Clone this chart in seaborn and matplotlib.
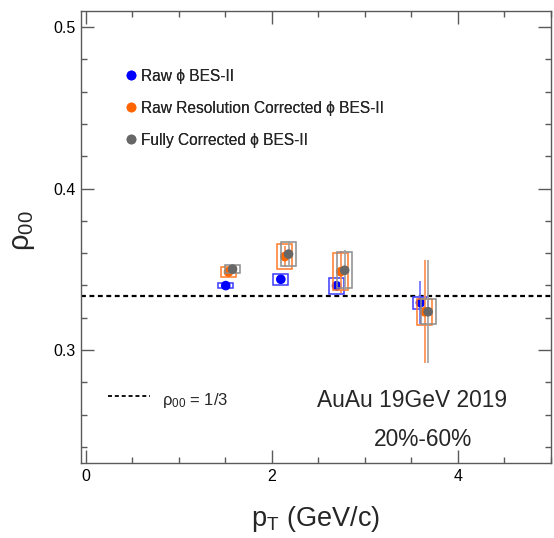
import matplotlib
matplotlib.use("Agg")
import matplotlib.pyplot as plt
from matplotlib.patches import Rectangle
from matplotlib.lines import Line2D
from matplotlib.ticker import MultipleLocator
import seaborn as sns
import pandas as pd

# rho_00 vs pT, AuAu 19.6 GeV, 20-60% centrality
series_names = ["Raw \u03d5 BES-II",
                "Raw Resolution Corrected \u03d5 BES-II",
                "Fully Corrected \u03d5 BES-II"]

pt_raw = [1.505, 2.097, 2.696, 3.597]
rho_raw = [0.3399, 0.3438, 0.3398, 0.3293]
stat_raw = [0.0010, 0.0020, 0.0030, 0.0134]
sys_raw = [0.0016, 0.0033, 0.0048, 0.0037]

pt_res = [1.535, 2.140, 2.740, 3.643]
rho_res = [0.3483, 0.3579, 0.3485, 0.3237]
stat_res = [0.0025, 0.0065, 0.0130, 0.0320]
sys_res = [0.0030, 0.0076, 0.0116, 0.0082]

pt_full = [1.578, 2.180, 2.783, 3.680]
rho_full = [0.3501, 0.3594, 0.3494, 0.3237]
stat_full = [0.0025, 0.0080, 0.0124, 0.0320]
sys_full = [0.0026, 0.0075, 0.0110, 0.0077]

rho_ref = 1.0 / 3.0
box_halfwidth = 0.08

marker_colors = ["#0000ff", "#ff6600", "#676767"]
box_colors = ["#3b3bff", "#ff7a2a", "#8c8c8c"]
stat_colors = ["#6b6bff", "#ff8a4a", "#a0a0a0"]

frames = []
for name, x, y, st, sy in zip(series_names,
                              [pt_raw, pt_res, pt_full],
                              [rho_raw, rho_res, rho_full],
                              [stat_raw, stat_res, stat_full],
                              [sys_raw, sys_res, sys_full]):
    frames.append(pd.DataFrame({"series": name, "pt": x, "rho": y,
                                "stat": st, "sys": sy}))
df = pd.concat(frames, ignore_index=True)

sns.set_theme(style="ticks")
plt.rcParams["font.family"] = ["Liberation Sans", "DejaVu Sans"]
plt.rcParams["mathtext.fontset"] = "custom"
plt.rcParams["mathtext.rm"] = "Liberation Sans"
plt.rcParams["mathtext.it"] = "Liberation Sans"
plt.rcParams["mathtext.bf"] = "Liberation Sans:bold"

fig = plt.figure(figsize=(5.54, 5.38), dpi=100)
ax = fig.add_axes([81 / 554, 75 / 538, 470 / 554, 452 / 538])

# reference line
ax.axhline(rho_ref, color="black", lw=1.6, ls=(0, (2.2, 1.6)), zorder=1)

# systematic boxes and statistical bars, drawn series by series
for i, name in enumerate(series_names):
    sub = df[df["series"] == name]
    for _, r in sub.iterrows():
        ax.add_patch(Rectangle((r["pt"] - box_halfwidth, r["rho"] - r["sys"]),
                               2 * box_halfwidth, 2 * r["sys"],
                               fill=False, edgecolor=box_colors[i], lw=1.1,
                               zorder=2 + 2 * i))
    ax.errorbar(sub["pt"], sub["rho"], yerr=sub["stat"], fmt="none",
                ecolor=stat_colors[i], elinewidth=1.2, capsize=0,
                zorder=2 + 2 * i)

for i, name in enumerate(series_names):
    sub = df[df["series"] == name]
    sns.scatterplot(data=sub, x="pt", y="rho", color=marker_colors[i],
                    s=48, edgecolor="none", ax=ax, zorder=3 + 2 * i,
                    legend=False)

ax.set_xlim(-0.05, 5.0)
ax.set_ylim(0.23, 0.51)
ax.xaxis.set_major_locator(MultipleLocator(2))
ax.xaxis.set_minor_locator(MultipleLocator(0.5))
ax.yaxis.set_major_locator(MultipleLocator(0.1))
ax.yaxis.set_minor_locator(MultipleLocator(0.02))
ax.set_xticks([0, 2, 4])
ax.set_xticklabels(["0", "2", "4"])
ax.set_yticks([0.3, 0.4, 0.5])
ax.set_yticklabels(["0.3", "0.4", "0.5"])

frame_color = "#5a5a5a"
for s in ax.spines.values():
    s.set_visible(True)
    s.set_color(frame_color)
    s.set_linewidth(1.0)
ax.tick_params(which="both", direction="in", top=True, right=True,
               color=frame_color, width=1.0, labelsize=11.5,
               labelcolor="black")
ax.tick_params(which="major", length=9.4, pad=4)
ax.tick_params(which="minor", length=4.0)

ax.set_xlabel(r"$\mathregular{p_{T}}$ (GeV/c)", fontsize=19.5)
ax.set_ylabel(r"$\mathregular{\rho_{00}}$", fontsize=21)
ax.xaxis.set_label_coords(0.5, -0.09)
ax.yaxis.set_label_coords(-0.093, 0.515)

# series legend
handles = [Line2D([], [], marker="o", ls="none", color=c, markersize=7,
                  markeredgewidth=0) for c in marker_colors]
leg = ax.legend(handles, series_names, loc="center left",
                bbox_to_anchor=(0.0928, 0.7847), frameon=False,
                fontsize=11.2, handlelength=0.8, handletextpad=0.25,
                labelspacing=1.1, borderpad=0, borderaxespad=0)
ax.add_artist(leg)

# reference line key
ax.add_line(Line2D([0.057, 0.147], [0.148, 0.148], transform=ax.transAxes,
                   color="black", lw=1.3, ls=(0, (2.2, 1.6))))
ax.text(0.172, 0.138, r"$\mathregular{\rho_{00}}$ = 1/3",
        transform=ax.transAxes, fontsize=12, va="center", ha="left")

ax.text(0.7036, 0.138, "AuAu 19GeV 2019", transform=ax.transAxes,
        fontsize=16.4, ha="center", va="center")
ax.text(0.7266, 0.051, "20%-60%", transform=ax.transAxes,
        fontsize=16.4, ha="center", va="center")

fig.savefig("out.png", dpi=100)
